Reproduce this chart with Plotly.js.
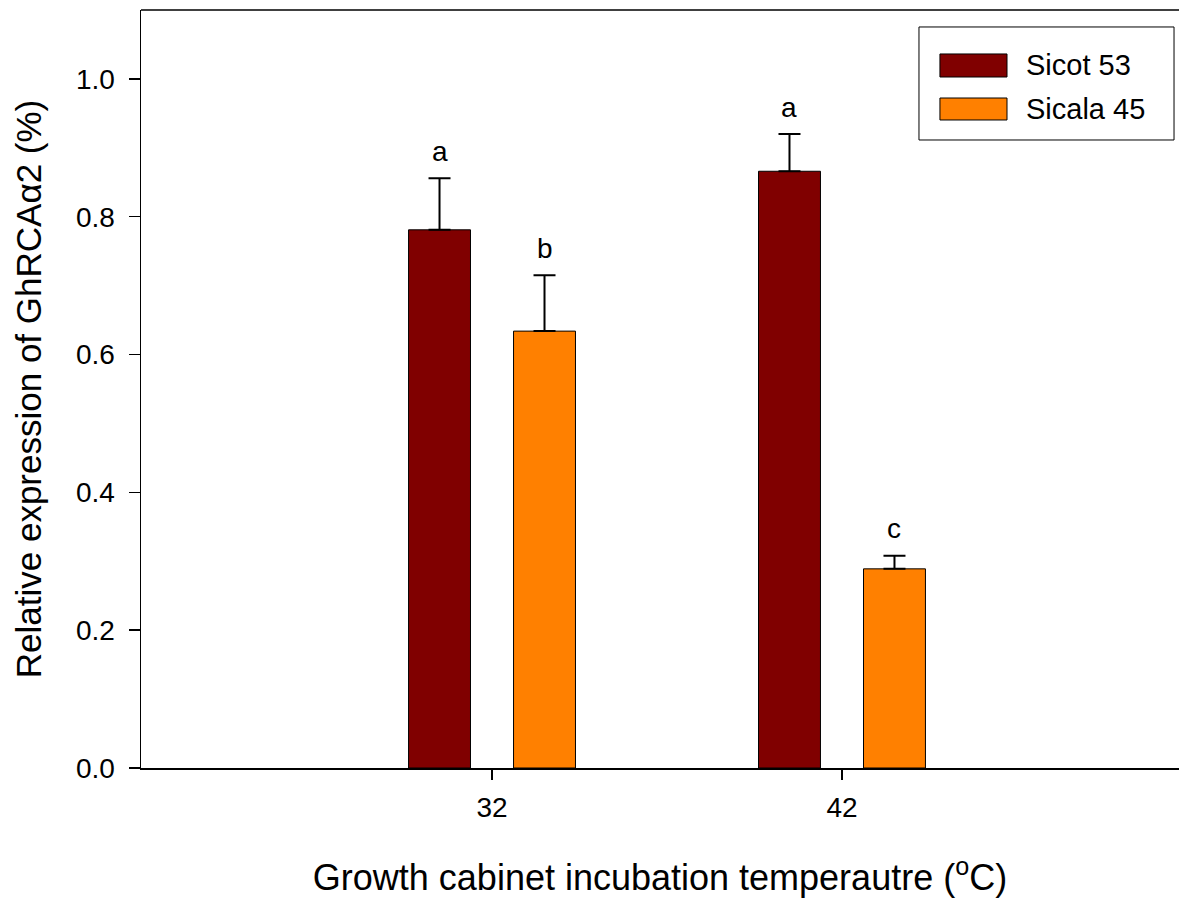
<!DOCTYPE html>
<html>
<head>
<meta charset="utf-8">
<script src="https://cdn.plot.ly/plotly-3.0.1.min.js"></script>
<style>html,body{margin:0;padding:0;background:#fff;}#chart{width:1179px;height:898px;}</style>
</head>
<body>
<div id="chart"></div>
<script>
// ---- data ----
const temperatures = ["32", "42"];
const seriesNames = ["Sicot 53", "Sicala 45"];
const sicot53 = [0.781, 0.866];
const sicot53Err = [0.075, 0.054];
const sicala45 = [0.634, 0.289];
const sicala45Err = [0.081, 0.019];
const sicot53Letters = ["a", "a"];
const sicala45Letters = ["b", "c"];
const colors = ["#800000", "#FF8000"];

const FONT = "Liberation Sans, Arial, sans-serif";

function barTrace(name, y, err, color) {
  return {
    type: "bar", name: name, x: temperatures, y: y,
    marker: {color: color, line: {color: "#000", width: 1}},
    error_y: {type: "data", array: err, arrayminus: y.map(() => 0), symmetric: false,
              color: "#000", thickness: 2, width: 11},
    showlegend: false, hoverinfo: "x+y"
  };
}

const data = [
  barTrace(seriesNames[0], sicot53, sicot53Err, colors[0]),
  barTrace(seriesNames[1], sicala45, sicala45Err, colors[1])
];

const annotations = [];
function addLetters(letters, vals, errs, shift) {
  letters.forEach((t, i) => {
    // category axis: annotation x given as category index
    annotations.push({x: i, y: vals[i] + errs[i], xref: "x", yref: "y",
      text: t, showarrow: false, yanchor: "middle", xshift: shift, yshift: 27,
      font: {family: FONT, size: 28, color: "#000"}});
  });
}
addLetters(sicot53Letters, sicot53, sicot53Err, -52.5);
addLetters(sicala45Letters, sicala45, sicala45Err, 52.5);

// custom legend
const shapes = [
  {type: "line", xref: "paper", yref: "paper", x0: 0, x1: 1, y0: 1, y1: 1, line: {color: "#000", width: 1.5}},
  {type: "rect", xref: "paper", yref: "paper", x0: 0.7495, x1: 0.9952, y0: 0.8285, y1: 0.9776,
   line: {color: "#000", width: 1}, fillcolor: "rgba(255,255,255,0)"}
];
const legendY = [[0.9116, 0.9420], [0.8549, 0.8839]];
seriesNames.forEach((n, i) => {
  shapes.push({type: "rect", xref: "paper", yref: "paper", x0: 0.7697, x1: 0.8343,
    y0: legendY[i][0], y1: legendY[i][1], fillcolor: colors[i], line: {color: "#000", width: 1}});
  annotations.push({xref: "paper", yref: "paper", x: 0.8507, y: (legendY[i][0] + legendY[i][1]) / 2,
    xanchor: "left", yanchor: "middle", text: n, showarrow: false,
    font: {family: FONT, size: 29, color: "#000"}});
});

const layout = {
  width: 1179, height: 898,
  margin: {l: 141, r: 0, t: 10, b: 130},
  paper_bgcolor: "#fff", plot_bgcolor: "#fff",
  font: {family: FONT, color: "#000"},
  barmode: "group", bargap: 0.4, bargroupgap: 0.41,
  xaxis: {
    type: "category", range: [-1.003, 1.963], showgrid: false, zeroline: false,
    showline: true, linecolor: "#000", linewidth: 2,
    ticks: "outside", ticklen: 10, tickwidth: 1.5, tickcolor: "#000",
    ticklabelstandoff: 3,
    tickfont: {family: FONT, size: 28, color: "#000"},
    title: {text: "Growth cabinet incubation temperautre (<sup>o</sup>C)", standoff: 44,
            font: {family: FONT, size: 36, color: "#000"}}
  },
  yaxis: {
    range: [0, 1.1], dtick: 0.2, tickformat: ".1f", showgrid: false, zeroline: false,
    showline: true, linecolor: "#000", linewidth: 1.5,
    ticks: "outside", ticklen: 11, tickwidth: 1.5, tickcolor: "#000",
    ticklabelstandoff: 8,
    tickfont: {family: FONT, size: 28, color: "#000"},
    title: {text: "Relative expression of GhRCA\u03B12 (%)", standoff: 23,
            font: {family: FONT, size: 35, color: "#000"}}
  },
  annotations: annotations,
  shapes: shapes
};

Plotly.newPlot("chart", data, layout, {displayModeBar: false, staticPlot: true});
</script>
</body>
</html>
